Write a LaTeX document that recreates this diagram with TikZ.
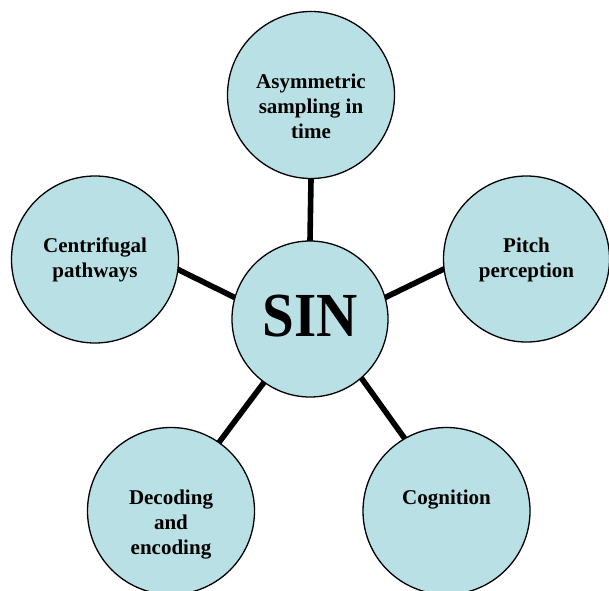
\documentclass[tikz,border=0pt]{standalone}
\usepackage{fontspec}
\setmainfont{Liberation Serif}
\usetikzlibrary{backgrounds}
\definecolor{bubble}{RGB}{185,224,228}
\tikzset{
  bub/.style={circle, draw=black, line width=1.3pt, fill=bubble, minimum size=167pt, inner sep=0pt},
  hub/.style={bub, minimum size=156pt},
  txt/.style={align=center, inner sep=0pt, font=\bfseries\fontsize{21}{25}\selectfont},
  hubtxt/.style={inner sep=0pt, font=\bfseries\fontsize{57}{60}\selectfont},
  link/.style={line width=5.6pt, black, shorten <=-4pt, shorten >=-4pt}
}
\begin{document}
\begin{tikzpicture}[x=1pt,y=1pt]
\useasboundingbox (0,0) rectangle (609,590);
\node[hub] (sin) at (310,271) {};
\node[bub] (top) at (311,495) {};
\node[bub] (left) at (95,330.5) {};
\node[bub, minimum size=166pt] (right) at (526.5,331) {};
\node[bub] (bl) at (171,79) {};
\node[bub] (br) at (446.5,79) {};
\node[hubtxt] (sintext) at ([yshift=3pt]sin.center) {\scalebox{1}[1.1]{SIN}};
\node[txt, anchor=north] (toptext) at ([yshift=21.6pt]top.center) {Asymmetric\\sampling in\\time};
\node[txt, anchor=north] (lefttext) at ([yshift=21.6pt]left.center) {Centrifugal\\pathways};
\node[txt, anchor=north] (righttext) at ([yshift=21.6pt]right.center) {Pitch\\perception};
\node[txt, anchor=north] (bltext) at ([yshift=21.6pt]bl.center) {Decoding\\and\\encoding};
\node[txt, anchor=north] (brtext) at ([yshift=21.6pt]br.center) {Cognition};
\begin{scope}[on background layer]
\draw[link] (top.south) -- (sin.north);
\draw[link] (left.-7) -- (sin.164);
\draw[link] (sin.16) -- (right.187);
\draw[link] (sin.-126) -- (bl.55);
\draw[link] (sin.-49) -- (br.120);
\end{scope}
\end{tikzpicture}
\end{document}
